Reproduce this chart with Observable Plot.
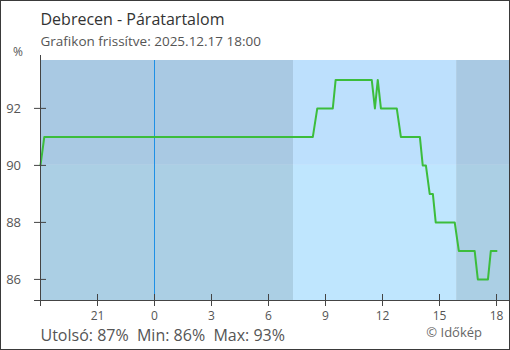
<!DOCTYPE html>
<html><head><meta charset="utf-8">
<script src="https://cdn.jsdelivr.net/npm/d3@7"></script>
<script src="https://cdn.jsdelivr.net/npm/@observablehq/plot@0.6"></script>
<style>
body{margin:0;background:#fff;}
#wrap{position:relative;width:510px;height:350px;overflow:hidden;background:#fff;}
#border{position:absolute;left:0;top:0;width:510px;height:350px;box-sizing:border-box;border:1px solid #3a3a3a;pointer-events:none;}
</style></head><body>
<div id="wrap"><div id="chart"></div><div id="border"></div></div>
<script>
// ---- data ----
const titleText = "Debrecen - Páratartalom";
const subtitleText = "Grafikon frissítve: 2025.12.17 18:00";
const unitLabel = "%";
const creditText = "© Időkép";
const times = ["2025-12-16T18:00","2025-12-16T18:12","2025-12-17T08:20","2025-12-17T08:34","2025-12-17T09:23","2025-12-17T09:32","2025-12-17T11:26","2025-12-17T11:36","2025-12-17T11:45","2025-12-17T11:55","2025-12-17T12:45","2025-12-17T12:58","2025-12-17T13:58","2025-12-17T14:07","2025-12-17T14:17","2025-12-17T14:29","2025-12-17T14:39","2025-12-17T14:48","2025-12-17T15:48","2025-12-17T16:01","2025-12-17T16:51","2025-12-17T17:01","2025-12-17T17:33","2025-12-17T17:42","2025-12-17T18:00"];
const humidity = [90,91,91,92,92,93,93,92,93,92,92,91,91,90,90,89,89,88,88,87,87,86,86,87,87];
const xTickHours = [-6,-3,0,3,6,9,12,15,18];
const yTicks = [86,88,90,92];
const midnight = "2025-12-17T00:00";
const xStart = "2025-12-16T18:00";
const xEnd = "2025-12-17T18:41";
const sunrise = "2025-12-17T07:19";
const sunset = "2025-12-17T15:54";
const yMin = 85.26, yMax = 93.68;
const threshold = 90;
const colors = {nightTop:"#a9c9e3", nightBottom:"#abcfe4", dayTop:"#bde0fd", dayBottom:"#bfe6fe", line:"#3cbd3c", midnight:"#1e90e6", axis:"#444", text:"#555", title:"#333"};

// ---- build ----
const W = 510, H = 350, ML = 40, MR = 1, MT = 60, MB = 50, TICK = 6;
const hrs = t => (Date.parse(t + "Z") - Date.parse(midnight + "Z")) / 3.6e6;
const data = times.map((t, i) => ({h: hrs(t), v: humidity[i]}));
const x0 = hrs(xStart), x1 = hrs(xEnd), sr = hrs(sunrise), ss = hrs(sunset);
const bands = [
  {x1: x0, x2: sr, y1: yMin, y2: threshold, c: colors.nightBottom},
  {x1: x0, x2: sr, y1: threshold, y2: yMax, c: colors.nightTop},
  {x1: sr, x2: ss, y1: yMin, y2: threshold, c: colors.dayBottom},
  {x1: sr, x2: ss, y1: threshold, y2: yMax, c: colors.dayTop},
  {x1: ss, x2: x1, y1: yMin, y2: threshold, c: colors.nightBottom},
  {x1: ss, x2: x1, y1: threshold, y2: yMax, c: colors.nightTop}
];
const last = humidity[humidity.length - 1];
const footer = `Utolsó: ${last}%\u00a0 Min: ${d3.min(humidity)}%\u00a0 Max: ${d3.max(humidity)}%`;
const fmtX = h => String((h + 24) % 24);
const labelledX = xTickHours.filter(h => h !== x0);
const frameW = W - ML - MR, frameH = H - MT - MB;

const chart = Plot.plot({
  width: W, height: H,
  marginLeft: ML, marginRight: MR, marginTop: MT, marginBottom: MB,
  style: {fontFamily: "'Open Sans', sans-serif", fontSize: "13px", color: colors.text, background: "transparent", overflow: "visible"},
  x: {domain: [x0, x1]},
  y: {domain: [yMin, yMax]},
  color: {type: "identity"},
  marks: [
    Plot.rect(bands, {x1: "x1", x2: "x2", y1: "y1", y2: "y2", fill: d => d.c}),
    Plot.ruleX([0], {stroke: colors.midnight, strokeWidth: 1}),
    Plot.line(data, {x: "h", y: "v", stroke: colors.line, strokeWidth: 2, curve: "linear"}),
    Plot.ruleY([yMin], {stroke: colors.axis, insetLeft: -TICK}),
    Plot.ruleX([x0], {stroke: colors.axis, insetTop: -5, insetBottom: -TICK}),
    // inner halves of the crossing tick marks
    Plot.ruleX(xTickHours, {x: d => d, stroke: colors.axis, insetTop: frameH - TICK}),
    Plot.ruleY(yTicks, {y: d => d, stroke: colors.axis, insetRight: frameW - TICK}),
    Plot.axisX({ticks: labelledX, tickSize: TICK, tickPadding: 4.5, tickFormat: fmtX, label: null, stroke: colors.axis, fontSize: 12}),
    Plot.axisY({ticks: yTicks, tickSize: TICK, tickPadding: 13.5, tickFormat: d => String(d), label: null, stroke: colors.axis, fontSize: 13}),
    Plot.text([titleText], {text: d => d, frameAnchor: "top-left", lineAnchor: "bottom", textAnchor: "start", dy: -36, fontSize: 16, fill: colors.title}),
    Plot.text([subtitleText], {text: d => d, frameAnchor: "top-left", lineAnchor: "bottom", textAnchor: "start", dy: -14.5, fontSize: 13.5, fill: colors.text}),
    Plot.text([unitLabel], {text: d => d, frameAnchor: "top-left", lineAnchor: "bottom", textAnchor: "start", dx: -27.5, dy: -5, fontSize: 12, fill: colors.text}),
    Plot.text([footer], {text: d => d, frameAnchor: "bottom-left", lineAnchor: "bottom", textAnchor: "start", dy: 40, fontSize: 16, fill: colors.text}),
    Plot.text([creditText], {text: d => d, frameAnchor: "bottom-right", lineAnchor: "bottom", textAnchor: "end", dx: -27.5, dy: 36, fontSize: 13, fill: "#666"})
  ]
});
document.getElementById("chart").appendChild(chart);
</script>
</body></html>
